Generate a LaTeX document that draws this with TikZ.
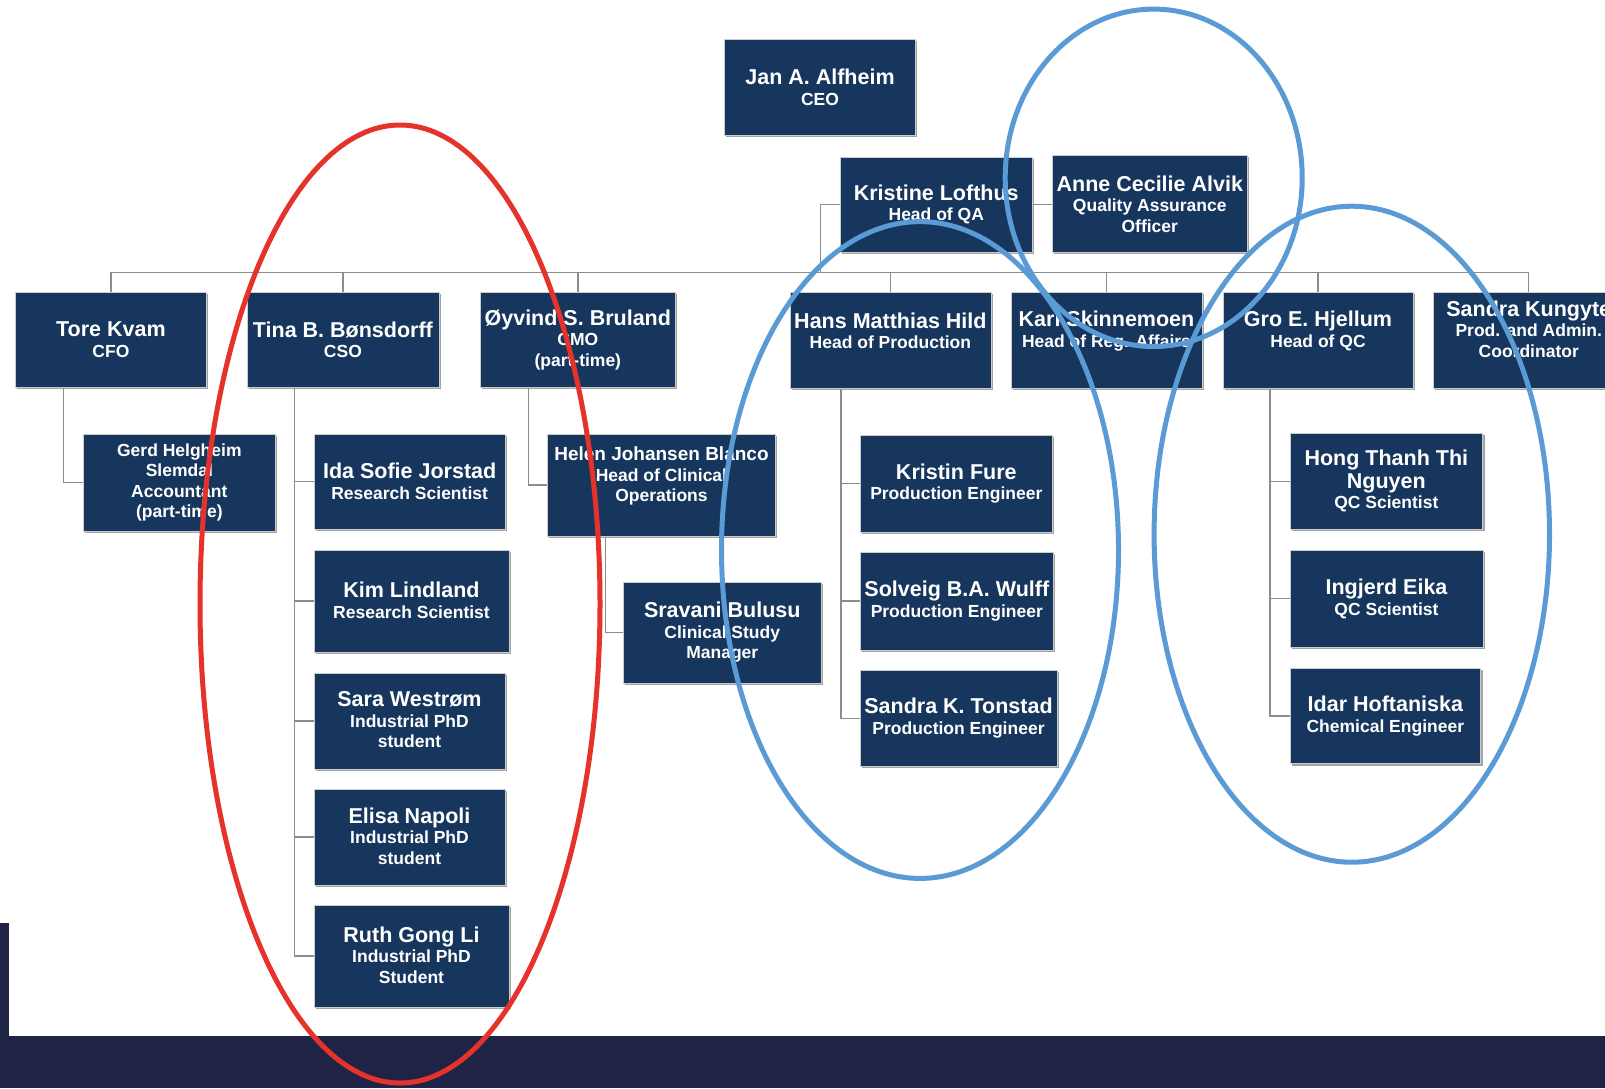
\documentclass[tikz,border=0pt]{standalone}
\usepackage{fontspec}
\setmainfont{Liberation Sans}
\usetikzlibrary{shadows}
\pgfdeclarelayer{bg}
\pgfsetlayers{bg,main}
\definecolor{navy}{HTML}{17365D}
\definecolor{conngray}{HTML}{8C8C8C}
\definecolor{band}{HTML}{1F2447}
\definecolor{ringred}{HTML}{E5322B}
\definecolor{ringblue}{HTML}{5B9BD5}
\newcommand\pname[1]{{\fontsize{21.5}{21}\selectfont #1}}
\tikzset{
  boxshape/.style={fill=navy, draw=black!20, line width=0.6pt, inner sep=0pt,
    drop shadow={shadow xshift=1.8pt, shadow yshift=-1.8pt, fill=black!45, opacity=0.8}},
  boxtext/.style={text=white, align=center, inner sep=0pt,
    font=\fontsize{17.5}{20.5}\selectfont\bfseries},
  conn/.style={draw=conngray, line width=1.4pt},
  ring/.style={line width=5pt},
}
% name, x1, y1, x2, y2, text shift up, text
\newcommand\orgbox[7]{%
  \node[boxshape, minimum width={(#4-#2)*1pt}, minimum height={(#5-#3)*1pt}]
    (#1) at ({(#2+#4)/2},{(#3+#5)/2}) {};
  \node[boxtext, yshift=#6pt] (#1-t) at (#1.center) {#7};
}
\begin{document}
\begin{tikzpicture}[x=1pt,y=-1pt]
\useasboundingbox (0,0) rectangle (1605,1088);

% boxes
\orgbox{jan}{724.5}{39.6}{915.5}{135}{0}{\pname{Jan A. Alfheim}\\CEO}
\orgbox{kristine}{840}{156.8}{1032.5}{251.8}{0}{\pname{Kristine Lofthus}\\Head of QA}
\orgbox{anne}{1052}{155.4}{1247.6}{252.5}{0}{\pname{Anne Cecilie Alvik}\\Quality Assurance\\Officer}
\orgbox{tore}{15.3}{291.8}{206.6}{387.6}{0}{\pname{Tore Kvam}\\CFO}
\orgbox{tina}{247}{291.8}{438.8}{387.6}{0}{\pname{Tina B. Bønsdorff}\\CSO}
\orgbox{oyvind}{480.6}{291.8}{675}{387.6}{0}{\pname{Øyvind S. Bruland}\\CMO\\(part-time)}
\orgbox{hans}{789.8}{291.8}{991}{388}{9}{\pname{Hans Matthias Hild}\\Head of Production}
\orgbox{kari}{1011}{291.8}{1202}{388}{9}{\pname{Kari Skinnemoen}\\Head of Reg. Affairs}
\orgbox{gro}{1223}{291.8}{1413}{388}{9}{\pname{Gro E. Hjellum}\\Head of QC}
\orgbox{sandra}{1433.5}{291.8}{1624}{388}{11}{\pname{Sandra Kungyte}\\Prod. and Admin.\\Coordinator}
\orgbox{gerd}{83.2}{433.9}{275.5}{531.4}{0}{Gerd Helgheim\\Slemdal\\Accountant\\(part-time)}
\orgbox{ida}{314.3}{434}{505}{529}{0}{\pname{Ida Sofie Jorstad}\\Research Scientist}
\orgbox{kim}{314}{549.8}{509}{652.5}{1}{\pname{Kim Lindland}\\Research Scientist}
\orgbox{sara}{314}{672.8}{505}{769}{1}{\pname{Sara Westrøm}\\Industrial PhD\\student}
\orgbox{elisa}{314}{788.9}{505}{885}{1}{\pname{Elisa Napoli}\\Industrial PhD\\student}
\orgbox{ruth}{314}{905}{509}{1007}{1}{\pname{Ruth Gong Li}\\Industrial PhD\\Student}
\orgbox{helen}{547.4}{434}{775.5}{536}{9}{{\fontsize{19}{20}\selectfont Helen Johansen Blanco}\\Head of Clinical\\Operations}
\orgbox{sravani}{623.5}{582}{821}{683}{0}{\pname{Sravani Bulusu}\\Clinical Study\\Manager}
\orgbox{fure}{860}{435}{1052.6}{532.4}{0}{\pname{Kristin Fure}\\Production Engineer}
\orgbox{solveig}{860}{552}{1053.6}{650}{0}{\pname{Solveig B.A. Wulff}\\Production Engineer}
\orgbox{tonstad}{860}{670}{1057}{766.5}{0}{\pname{Sandra K. Tonstad}\\Production Engineer}
\orgbox{hong}{1290}{433}{1482.7}{529.6}{0}{\pname{Hong Thanh Thi}\\[2pt]\pname{Nguyen}\\QC Scientist}
\orgbox{ingjerd}{1290}{550.5}{1483}{647}{0}{\pname{Ingjerd Eika}\\QC Scientist}
\orgbox{idar}{1290}{668}{1480.7}{763.7}{0}{\pname{Idar Hoftaniska}\\Chemical Engineer}

% helper coordinates
\coordinate (bus) at (0,272.2);
\coordinate (qa) at (820.3,0);
\coordinate (xt) at (63.3,0);
\coordinate (xs) at (294.4,0);
\coordinate (xo) at (528.6,0);
\coordinate (xh) at (605.6,0);
\coordinate (xp) at (841,0);
\coordinate (xq) at (1270,0);

\begin{pgfonlayer}{bg}
  \fill[white] (0,0) rectangle (1605,1088);
  % bottom band
  \fill[band] (0,1035.6) rectangle (1605,1088);
  \fill[band] (0,922.7) rectangle (9.2,1035.6);
  % connectors
  \draw[conn] (tore.north |- bus) -- (sandra.north |- bus);
  \foreach \n in {tore,tina,oyvind,hans,kari,gro,sandra}
    \draw[conn] (\n.north) -- (\n.north |- bus);
  \draw[conn] (kristine.west) -| (qa |- bus);
  \draw[conn] (kristine.east) -- (anne.west |- kristine.east);
  \draw[conn] (xt |- tore.south) |- (gerd.west);
  \draw[conn] (xs |- tina.south) |- (ruth.west);
  \foreach \n in {ida,kim,sara,elisa}
    \draw[conn] (xs |- \n.west) -- (\n.west);
  \draw[conn] (xo |- oyvind.south) |- (helen.west);
  \draw[conn] (xh |- helen.south) |- (sravani.west);
  \draw[conn] (xp |- hans.south) |- (tonstad.west);
  \foreach \n in {fure,solveig}
    \draw[conn] (xp |- \n.west) -- (\n.west);
  \draw[conn] (xq |- gro.south) |- (idar.west);
  \foreach \n in {hong,ingjerd}
    \draw[conn] (xq |- \n.west) -- (\n.west);
\end{pgfonlayer}

% highlight rings
\draw[ring, ringred] (400,604) ellipse [x radius=200pt, y radius=479pt];
\draw[ring, ringblue] (1153.7,177.8) ellipse [x radius=148.5pt, y radius=168.7pt];
\draw[ring, ringblue] (920,550) ellipse [x radius=198.5pt, y radius=328.4pt];
\draw[ring, ringblue] (1351.8,534.2) ellipse [x radius=197.7pt, y radius=328pt];
\end{tikzpicture}
\end{document}
